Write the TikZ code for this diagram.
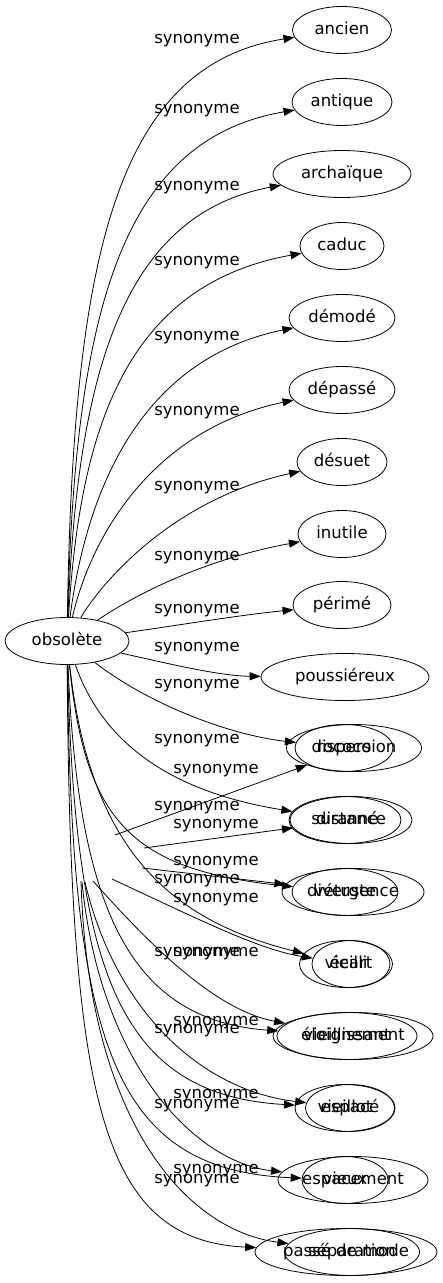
\documentclass[tikz,border=0pt]{standalone}
\usepackage{fontspec}
\setmainfont{DejaVu Sans}
\usetikzlibrary{shapes.geometric,arrows.meta}
\begin{document}
\begin{tikzpicture}[x=1pt,y=-1pt,
  nd/.style={draw,ellipse,inner sep=0pt,minimum height=47pt,text height=12pt,text depth=3.5pt,line width=0.8pt,font=\fontsize{16.5}{18}\selectfont},
  lbl/.style={inner sep=0pt,font=\fontsize{16.5}{18}\selectfont},
  ar/.style={-{Triangle[length=11pt,width=8pt]},line width=0.8pt}]
\useasboundingbox[fill=white] (0,0) rectangle (442,1283);
% main node
\node[nd,minimum width=124pt] (obs) at (67,641) {obsolète};
% upper targets
\node[nd,minimum width=99pt]  (ancien)   at (342,30)  {ancien};
\node[nd,minimum width=100pt] (antique)  at (342,102) {antique};
\node[nd,minimum width=138pt] (archaique) at (342,174) {archaïque};
\node[nd,minimum width=84pt]  (caduc)    at (342,246) {caduc};
\node[nd,minimum width=106pt] (demode)   at (342,318) {démodé};
\node[nd,minimum width=106pt] (depasse)  at (342,390) {dépassé};
\node[nd,minimum width=90pt]  (desuet)   at (342,462) {désuet};
\node[nd,minimum width=88pt]  (inutile)  at (342,534) {inutile};
\node[nd,minimum width=98pt]  (perime)   at (342,605) {périmé};
\node[nd,minimum width=168pt] (pous)     at (345,677) {poussiéreux};
% lower targets of obsolète
\node[nd,minimum width=98pt]  (rococo)   at (344,748)  {rococo};
\node[nd,minimum width=112pt] (suranne)  at (345,820)  {suranné};
\node[nd,minimum width=106pt] (vetuste)  at (345,892)  {vétuste};
\node[nd,minimum width=93pt]  (vieilli)  at (346,964)  {vieilli};
\node[nd,minimum width=140pt] (vieillis) at (347,1036) {vieillissant};
\node[nd,minimum width=100pt] (vieillot) at (345,1108) {vieillot};
\node[nd,minimum width=86pt]  (vieux)    at (345,1180) {vieux};
\node[nd,minimum width=182pt] (passe)    at (346,1252) {passé de mode};
% second graph targets
\node[nd,minimum width=135pt] (dispersion) at (354,748)  {dispersion};
\node[nd,minimum width=122pt] (distance)   at (351,820)  {distance};
\node[nd,minimum width=142pt] (divergence) at (353,892)  {divergence};
\node[nd,minimum width=78pt]  (ecart)      at (351,964)  {écart};
\node[nd,minimum width=160pt] (eloign)     at (353,1036) {éloignement};
\node[nd,minimum width=89pt]  (espace)     at (350,1108) {espacé};
\node[nd,minimum width=150pt] (espacement) at (353,1180) {espacement};
\node[nd,minimum width=135pt] (separation) at (352,1252) {séparation};
% free ends of the second graph's connectors
\coordinate (s1) at (115,835);
\coordinate (s2) at (144,848);
\coordinate (s3) at (142,868);
\coordinate (s4) at (112,879);
\coordinate (s5) at (93,881);
\coordinate (s6) at (85,882);
\coordinate (s7) at (82,882);
\coordinate (s8) at (81,881);
% edges of obsolète (upper)
\draw[ar] (obs) .. controls (73,260) and (115,65) .. (ancien);
\draw[ar] (obs) .. controls (75,320) and (118,140) .. (antique);
\draw[ar] (obs) .. controls (77,380) and (120,215) .. (archaique);
\draw[ar] (obs) .. controls (80,430) and (125,285) .. (caduc);
\draw[ar] (obs) .. controls (85,500) and (135,360) .. (demode);
\draw[ar] (obs) .. controls (90,540) and (150,430) .. (depasse);
\draw[ar] (obs) .. controls (100,585) and (170,500) .. (desuet);
\draw[ar] (obs) .. controls (130,598) and (200,560) .. (inutile);
\draw[ar] (obs) .. controls (180,625) and (240,615) .. (perime);
\draw[ar] (obs) .. controls (170,664) and (220,676) .. (pous);
% edges of obsolète (lower)
\draw[ar] (obs) .. controls (150,705) and (230,735) .. (rococo);
\draw[ar] (obs) .. controls (100,735) and (160,790) .. (suranne);
\draw[ar] (obs) .. controls (85,820) and (130,870) .. (vetuste);
\draw[ar] (obs) .. controls (90,850) and (170,920) .. (vieilli);
\draw[ar] (obs) .. controls (78,910) and (130,1020) .. (vieillis);
\draw[ar] (obs) .. controls (75,975) and (120,1095) .. (vieillot);
\draw[ar] (obs) .. controls (72,1040) and (110,1170) .. (vieux);
\draw[ar] (obs) .. controls (70,1100) and (100,1240) .. (passe);
% second graph edges
\draw[ar] (s1) -- (dispersion);
\draw[ar] (s2) -- (distance);
\draw[ar] (s3) -- (divergence);
\draw[ar] (s4) .. controls (200,920) and (260,950) .. (ecart);
\draw[ar] (s5) .. controls (150,945) and (215,1010) .. (eloign);
\draw[ar] (s6) .. controls (115,1010) and (200,1090) .. (espace);
\draw[ar] (s7) .. controls (100,1065) and (195,1162) .. (espacement);
\draw[ar] (s8) .. controls (88,1120) and (185,1230) .. (separation);
% labels of obsolète's edges
\node[lbl] (la1)  at (197,41)   {synonyme};
\node[lbl] (la2)  at (197,111)  {synonyme};
\node[lbl] (la3)  at (197,188)  {synonyme};
\node[lbl] (la4)  at (197,263)  {synonyme};
\node[lbl] (la5)  at (197,338)  {synonyme};
\node[lbl] (la6)  at (197,413)  {synonyme};
\node[lbl] (la7)  at (197,488)  {synonyme};
\node[lbl] (la8)  at (197,558)  {synonyme};
\node[lbl] (la9)  at (197,611)  {synonyme};
\node[lbl] (la10) at (197,649)  {synonyme};
\node[lbl] (la11) at (197,686)  {synonyme};
\node[lbl] (la12) at (197,741)  {synonyme};
\node[lbl] (la13) at (197,808)  {synonyme};
\node[lbl] (la14) at (197,881)  {synonyme};
\node[lbl] (la15) at (197,954)  {synonyme};
\node[lbl] (la16) at (197,1031) {synonyme};
\node[lbl] (la17) at (197,1106) {synonyme};
\node[lbl] (la18) at (197,1181) {synonyme};
% labels of the second graph's edges
\node[lbl] (lb1) at (216,771)  {synonyme};
\node[lbl] (lb2) at (216,826)  {synonyme};
\node[lbl] (lb3) at (216,863)  {synonyme};
\node[lbl] (lb4) at (216,900)  {synonyme};
\node[lbl] (lb5) at (216,954)  {synonyme};
\node[lbl] (lb6) at (216,1023) {synonyme};
\node[lbl] (lb7) at (216,1096) {synonyme};
\node[lbl] (lb8) at (216,1171) {synonyme};
\end{tikzpicture}
\end{document}
